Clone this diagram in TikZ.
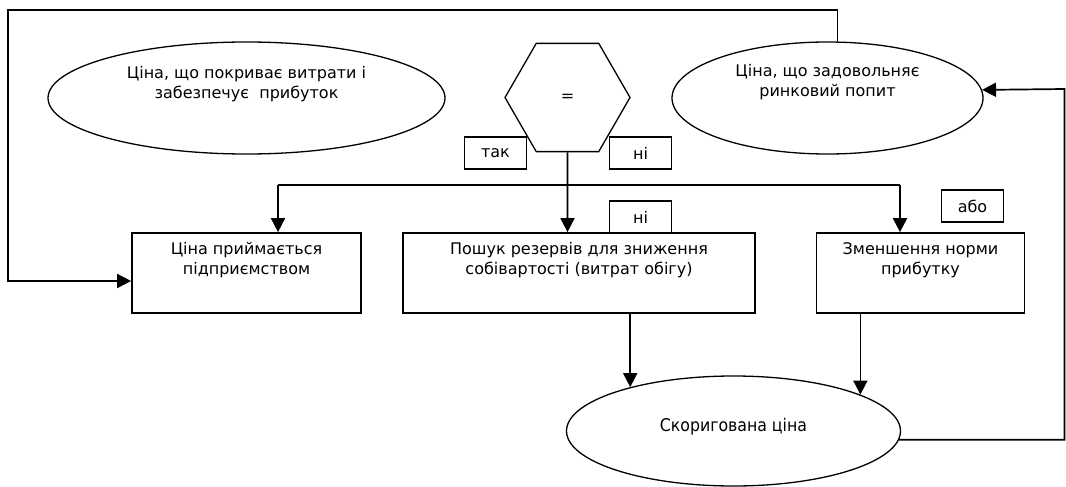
\documentclass[tikz,border=0pt]{standalone}
\usepackage{fontspec}
\setmainfont{DejaVu Sans}
\newfontfamily\condfont{DejaVu Sans Condensed}
\usetikzlibrary{shapes.geometric,arrows.meta}
\begin{document}
\begin{tikzpicture}[x=1pt,y=-1pt,
    font=\fontsize{16}{20}\selectfont,
    box/.style={draw,line width=1.7pt,minimum height=80pt,inner sep=0pt},
    oval/.style={draw,ellipse,line width=1.3pt,inner sep=0pt},
    tag/.style={draw,fill=white,line width=1.7pt,minimum width=62pt,minimum height=32pt,inner sep=0pt},
    txt/.style={align=center,inner sep=0pt},
    arrow/.style={line width=1.7pt,-{Triangle[length=14pt,width=14pt]}}]
\useasboundingbox (0,0) rectangle (1066,487);
% ovals
\node[oval,minimum width=397pt,minimum height=112pt] (costprice) at (246.5,98) {};
\node[oval,minimum width=311pt,minimum height=112pt] (pricedemand) at (827.5,98) {};
\node[oval,minimum width=334pt,minimum height=110pt] (adjusted) at (733.5,431) {};
\node[txt] (costtxt) at (246.5,84.5) {Ціна, що покриває витрати і\\забезпечує\ \ прибуток};
\node[txt] (demandtxt) at (827.5,82.5) {Ціна, що задовольняє\\ринковий попит};
\node[txt,font=\condfont\fontsize{17.5}{20}\selectfont] (adjustedtxt) at (733.5,427) {Скоригована ціна};
% decision
\node[draw,regular polygon,regular polygon sides=6,minimum size=125pt,inner sep=0pt,line width=1.3pt] (eq) at (567.5,97.5) {=};
% boxes
\node[box,minimum width=229pt] (accepted) at (246.5,273) {};
\node[box,minimum width=352pt] (search) at (579,273) {};
\node[box,minimum width=208pt] (reduce) at (920.5,273) {};
\node[txt,anchor=north] (acceptedtxt) at ([yshift=-10pt]accepted.north) {Ціна приймається\\підприємством};
\node[txt,anchor=north] (searchtxt) at ([yshift=-10pt]search.north) {Пошук резервів для зниження\\собівартості (витрат обігу)};
\node[txt,anchor=north] (reducetxt) at ([yshift=-10pt]reduce.north) {Зменшення норми\\прибутку};
% tags
\node[tag] (yes) at (495.5,153) {так};
\node[tag] (no) at (640.5,153) {ні};
\node[tag] (nosearch) at (640.5,217) {ні};
\node[tag] (or) at (972.5,206) {або};
% connectors
\coordinate (looptl) at (8,10);
\coordinate (loopr) at (1064.5,89);
\coordinate (branchl) at (278,185);
\coordinate (branchr) at (900,185);
\draw[arrow] (pricedemand.80) |- (looptl) |- ([yshift=-8pt]accepted.west);
\draw[arrow] (adjusted.-3.5) -| (loopr) -- (pricedemand.3);
\draw[arrow] (eq) -- (eq |- search.north);
\draw[line width=1.7pt] (branchl) -- (branchr);
\foreach \c/\n in {branchl/accepted,branchr/reduce}
    \draw[arrow] (\c) -- (\c |- \n.north);
\draw[arrow] (search.south -| adjusted.157) -- (adjusted.157);
\draw[arrow] (reduce.south -| adjusted.16) -- (adjusted.16);
\end{tikzpicture}
\end{document}
